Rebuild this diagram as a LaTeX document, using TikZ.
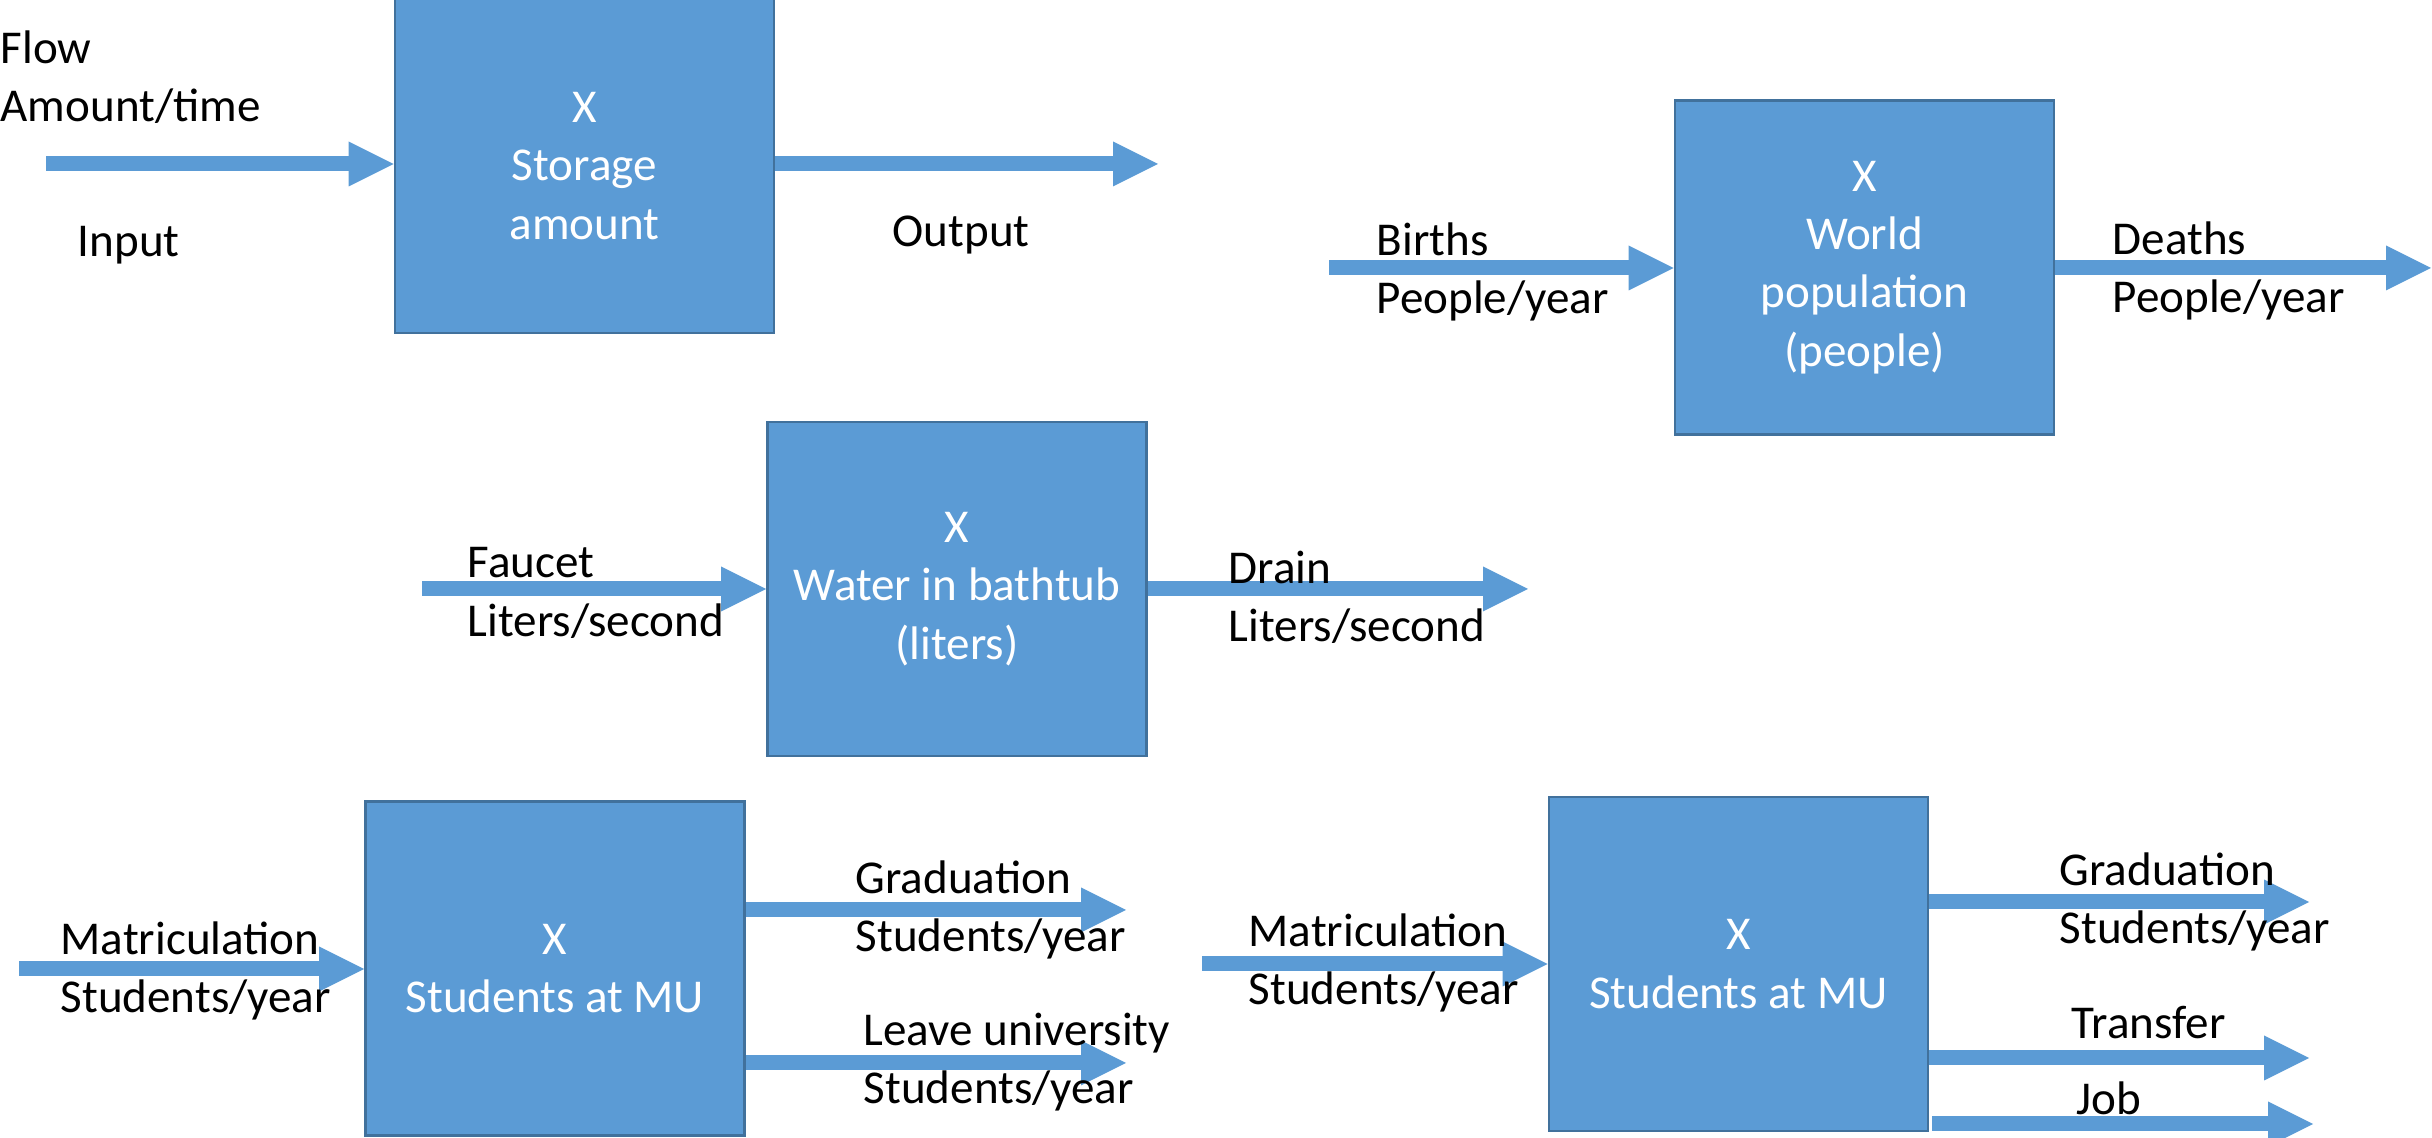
\documentclass[tikz,border=0pt]{standalone}
\usepackage{fontspec}
\setmainfont{Carlito}
\usepackage{tikz}
\usetikzlibrary{arrows.meta}
\definecolor{boxblue}{HTML}{5B9BD5}
\definecolor{boxedge}{HTML}{41719C}

\begin{document}
\begin{tikzpicture}[
    stock/.style={draw=boxedge, line width=0.8pt, fill=boxblue, text=white,
      minimum width=3.79cm, minimum height=3.34cm, align=center, inner sep=0pt},
    flow/.style={draw=boxblue, line width=0.15cm,
      -{Triangle[length=0.45cm, width=0.45cm, line width=0pt]}},
    lbl/.style={anchor=west, align=left, inner sep=0pt},
    font=\fontsize{13.4}{16.6}\selectfont]
        \useasboundingbox (0,0) rectangle (24.32,-11.38);

        % general stock
        \node [stock] (store) at (5.845,-1.66) {X\\Storage\\amount};
        \coordinate (instart) at (0.46,-1.64);
        \coordinate (outend) at (11.58,-1.64);
        \draw [flow] (instart) -- (instart -| store.west);
        \draw [flow] (store.east |- outend) -- (outend);
        \node [lbl] (flowlbl) at (0,-0.77) {Flow\\Amount/time};
        \node [lbl] (inlbl) at (0.77,-2.45) {Input};
        \node [lbl] (outlbl) at (8.92,-2.35) {Output};

        % world population
        \node [stock] (pop) at (18.645,-2.675) {X\\World\\population\\(people)};
        \coordinate (birthstart) at (13.29,-2.68);
        \coordinate (deathend) at (24.31,-2.68);
        \draw [flow] (birthstart) -- (birthstart -| pop.west);
        \draw [flow] (pop.east |- deathend) -- (deathend);
        \node [lbl] (births) at (13.76,-2.72) {Births\\People/year};
        \node [lbl] (deaths) at (21.12,-2.71) {Deaths\\People/year};

        % bathtub
        \node [stock] (tub) at (9.57,-5.89) {X\\Water in bathtub\\(liters)};
        \coordinate (faucetstart) at (4.22,-5.89);
        \coordinate (drainend) at (15.28,-5.89);
        \draw [flow] (faucetstart) -- (faucetstart -| tub.west);
        \draw [flow] (tub.east |- drainend) -- (drainend);
        \node [lbl] (faucet) at (4.67,-5.93) {Faucet\\Liters/second};
        \node [lbl] (drain) at (12.28,-5.97) {Drain\\Liters/second};

        % students, two outflows
        \node [stock] (mu) at (5.55,-9.685) {X\\Students at MU};
        \coordinate (matricstart) at (0.19,-9.69);
        \coordinate (gradend) at (11.26,-9.10);
        \coordinate (leaveend) at (11.26,-10.63);
        \draw [flow] (matricstart) -- (matricstart -| mu.west);
        \draw [flow] (mu.east |- gradend) -- (gradend);
        \draw [flow] (mu.east |- leaveend) -- (leaveend);
        \node [lbl] (matric) at (0.60,-9.71) {Matriculation\\Students/year};
        \node [lbl] (grad) at (8.55,-9.10) {Graduation\\Students/year};
        \node [lbl] (leave) at (8.63,-10.62) {Leave university\\Students/year};

        % students, three outflows
        \node [stock] (mutwo) at (17.385,-9.64) {X\\Students at MU};
        \coordinate (matrictwostart) at (12.02,-9.64);
        \coordinate (gradtwoend) at (23.09,-9.02);
        \coordinate (transferend) at (23.09,-10.58);
        \coordinate (jobstart) at (19.32,-11.24);
        \coordinate (jobend) at (23.13,-11.24);
        \draw [flow] (matrictwostart) -- (matrictwostart -| mutwo.west);
        \draw [flow] (mutwo.east |- gradtwoend) -- (gradtwoend);
        \draw [flow] (mutwo.east |- transferend) -- (transferend);
        \draw [flow] (jobstart) -- (jobend);
        \node [lbl] (matrictwo) at (12.48,-9.63) {Matriculation\\Students/year};
        \node [lbl] (gradtwo) at (20.59,-9.02) {Graduation\\Students/year};
        \node [lbl] (transfer) at (20.71,-10.23) {Transfer};
        \node [lbl] (job) at (20.76,-10.98) {Job};
\end{tikzpicture}
\end{document}
